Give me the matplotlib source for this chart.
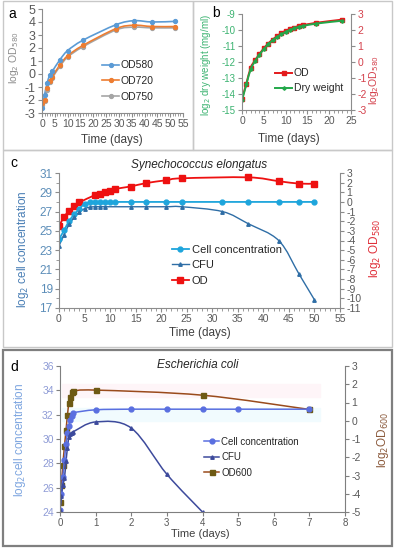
import numpy as np
import matplotlib
matplotlib.use('Agg')
import matplotlib.pyplot as plt
from matplotlib.path import Path
from matplotlib.patches import PathPatch, Rectangle
from matplotlib.lines import Line2D
from matplotlib.ticker import MultipleLocator

plt.rcParams['font.family'] = ['Liberation Sans', 'DejaVu Sans']
plt.rcParams['axes.unicode_minus'] = False

# ---- panel a: log2 OD at three wavelengths
a_days = [0, 1, 2, 3, 4, 7, 10, 16, 29, 36, 43, 52]
a_od580 = [-2.6, -1.6, -0.7, -0.1, 0.2, 1.1, 1.8, 2.6, 3.8, 4.1, 4.0, 4.05]
a_od720 = [-2.2, -2.0, -1.1, -0.5, -0.2, 0.7, 1.4, 2.2, 3.5, 3.75, 3.65, 3.65]
a_od750 = [-2.4, -2.1, -1.2, -0.6, -0.3, 0.6, 1.3, 2.1, 3.4, 3.6, 3.55, 3.55]

# ---- panel b: OD vs dry weight
b_days = [0, 1, 2, 3, 4, 5, 6, 7, 8, 9, 10, 11, 12, 13, 14, 17, 23]
b_od = [-2.3, -1.35, -0.35, 0.1, 0.5, 0.85, 1.15, 1.4, 1.6, 1.8, 1.95, 2.05,
        2.15, 2.25, 2.3, 2.45, 2.65]
b_dry = [-14.4, -13.4, -12.45, -11.95, -11.55, -11.2, -10.9, -10.65, -10.45,
         -10.28, -10.12, -10.0, -9.9, -9.8, -9.75, -9.6, -9.42]

# ---- panel c: Synechococcus elongatus
c_days = [0, 1, 2, 3, 4, 5, 6, 7, 8, 9, 10, 11, 14, 17, 21, 24, 32, 37, 43, 47, 50]
c_cells = [24.15, 25.05, 26.05, 26.7, 27.3, 27.8, 27.95, 28, 28, 28, 28, 28,
           28, 28, 28, 28, 28, 28, 28, 28, 28]
c_cfu_days = [0, 1, 2, 3, 4, 5, 6, 7, 8, 9, 14, 17, 21, 24, 32, 37, 43, 47, 50]
c_cfu = [23.45, 24.6, 25.7, 26.4, 26.95, 27.3, 27.45, 27.5, 27.5, 27.5, 27.5,
         27.5, 27.5, 27.5, 27.0, 25.75, 24.0, 20.5, 17.85]
c_od_days = [0, 1, 2, 3, 4, 7, 8, 9, 10, 11, 14, 17, 21, 24, 37, 43, 47, 50]
c_od = [-2.5, -1.55, -0.9, -0.45, -0.05, 0.7, 0.85, 1.0, 1.15, 1.35, 1.6,
        1.95, 2.25, 2.45, 2.55, 2.15, 1.9, 1.9]
c_left_ticks = [17, 19, 21, 23, 25, 27, 29, 31]

# ---- panel d: Escherichia coli
d_days = [0, 0.04, 0.08, 0.125, 0.17, 0.21, 0.25, 0.29, 0.33, 0.375, 1, 2, 3, 4, 5, 7]
d_cells = [24.2, 25.5, 26.9, 28.3, 29.6, 30.5, 31.1, 31.6, 31.9, 32.15,
           32.4, 32.45, 32.45, 32.45, 32.45, 32.45]
d_cfu_days = [0, 0.04, 0.08, 0.125, 0.17, 0.21, 0.25, 0.29, 0.33, 0.375, 1, 2, 3, 4]
d_cfu = [24.2, 25.3, 26.2, 26.8, 28.2, 29.3, 30.2, 30.4, 30.5, 30.6, 31.4, 30.9, 27.1, 24.0]
d_od_days = [0, 0.04, 0.08, 0.125, 0.17, 0.21, 0.25, 0.29, 0.33, 0.375, 1, 4, 7]
d_od = [-4.45, -3.5, -2.4, -1.4, -0.5, 0.33, 0.97, 1.3, 1.55, 1.62, 1.68, 1.4, 0.62]

W, H = 396, 550
fig = plt.figure(figsize=(W / 100, H / 100), dpi=100)


def rect(l, t, r, b):
    return [l / W, 1 - b / H, (r - l) / W, (b - t) / H]


def smooth(ax, x, y, color, lw=1.2):
    # Excel-like smoothed line, drawn as cubic bezier through the points
    pts = np.column_stack([x, y]).astype(float)
    n = len(pts)
    verts, codes = [pts[0]], [Path.MOVETO]
    for i in range(n - 1):
        p0, p1 = pts[max(i - 1, 0)], pts[i]
        p2, p3 = pts[i + 1], pts[min(i + 2, n - 1)]
        verts += [p1 + (p2 - p0) / 6, p2 - (p3 - p1) / 6, p2]
        codes += [Path.CURVE4] * 3
    ax.add_patch(PathPatch(Path(verts, codes), fill=False, edgecolor=color, lw=lw))


def style(ax, tc='#595959', sc='#8c8c8c'):
    for s in ['top', 'right']:
        ax.spines[s].set_visible(False)
    for s in ['left', 'bottom']:
        ax.spines[s].set_color(sc)
        ax.spines[s].set_linewidth(0.8)
    ax.tick_params(which='both', direction='out', color=sc, labelsize=7.5,
                   labelcolor=tc, pad=1.5)
    ax.tick_params(which='major', length=3)
    ax.tick_params(which='minor', length=2)
    ax.set_facecolor('none')


def right_axis(ax, sc='#8c8c8c', tc='#595959'):
    axr = ax.twinx()
    axr.set_facecolor('none')
    for s in ['top', 'left', 'bottom']:
        axr.spines[s].set_visible(False)
    axr.spines['right'].set_color(sc)
    axr.tick_params(direction='out', length=3, color=sc, labelsize=7.5,
                    labelcolor=tc, pad=1.5)
    return axr


def frame(l, t, r, b, color='#c8c8c8', lw=1.0):
    fig.add_artist(Rectangle((l / W, 1 - b / H), (r - l) / W, (b - t) / H,
                             transform=fig.transFigure, fill=False,
                             edgecolor=color, lw=lw))


def legend(handles, labels, x, y, size, spacing):
    fig.legend(handles, labels, loc='upper left', bbox_to_anchor=(x / W, 1 - y / H),
               bbox_transform=fig.transFigure, frameon=False, fontsize=size,
               borderpad=0, handlelength=1.6, handletextpad=0.2,
               labelspacing=spacing, labelcolor='#262626')


frame(3, 1, 193, 150)
frame(193, 1, 392, 150)
frame(3, 150, 392, 347)
frame(3, 350, 392, 546, color='#7f7f7f', lw=1.6)

# ---------------- panel a
ax = fig.add_axes(rect(42, 9, 183, 113))
style(ax)
cols_a = ['#5b9bd5', '#ed7d31', '#a5a5a5']
for vals, c in zip([a_od750, a_od720, a_od580], cols_a[::-1]):
    smooth(ax, a_days, vals, c)
    ax.plot(a_days, vals, 'o', color=c, ms=2.8, ls='none')
ax.set_xlim(0, 55)
ax.set_ylim(-3, 5)
ax.xaxis.set_major_locator(MultipleLocator(5))
ax.xaxis.set_minor_locator(MultipleLocator(1))
ax.yaxis.set_major_locator(MultipleLocator(1))
ax.tick_params(axis='y', labelsize=9)
ax.tick_params(axis='x', labelsize=7.5)
fig.text(112 / W, 1 - 140 / H, 'Time (days)', ha='center', va='center',
         fontsize=8.5, color='#404040')
fig.text(14 / W, 1 - 58 / H, 'log$_2$ OD$_{580}$', rotation=90, ha='center',
         va='center', fontsize=7.5, color='#8c8c8c')
fig.text(8 / W, 1 - 14 / H, 'a', fontsize=10, ha='left', va='center')
legend([Line2D([], [], color=c, marker='o', ms=2.8, lw=1.2) for c in cols_a],
       ['OD580', 'OD720', 'OD750'], 97, 55, 7.5, 0.55)

# ---------------- panel b
ax = fig.add_axes(rect(242, 14, 351, 110))
style(ax, tc='#3cb371')
axr = right_axis(ax, tc='#d4414c')
green, red = '#22a84a', '#e31a1c'
smooth(axr, b_days, b_od, red, lw=1.4)
axr.plot(b_days, b_od, 's', color=red, ms=3.5, ls='none')
smooth(ax, b_days, b_dry, green, lw=1.4)
ax.plot(b_days, b_dry, 'D', color=green, ms=1.8, ls='none')
ax.set_xlim(0, 25)
ax.set_ylim(-15, -9)
axr.set_ylim(-3, 3)
ax.xaxis.set_major_locator(MultipleLocator(5))
ax.xaxis.set_minor_locator(MultipleLocator(1))
ax.yaxis.set_major_locator(MultipleLocator(1))
axr.yaxis.set_major_locator(MultipleLocator(1))
ax.tick_params(axis='x', labelcolor='#595959')
ax.tick_params(axis='y', labelsize=7)
ax.set_zorder(axr.get_zorder() + 1)
fig.text(289 / W, 1 - 139 / H, 'Time (days)', ha='center', va='center',
         fontsize=8.5, color='#404040')
fig.text(206 / W, 1 - 65 / H, 'log$_2$ dry weight (mg/ml)', rotation=90,
         ha='center', va='center', fontsize=7, color='#3cb371')
fig.text(374 / W, 1 - 80 / H, 'log$_2$OD$_{580}$', rotation=90,
         ha='center', va='center', fontsize=7.5, color='#d4414c')
fig.text(212 / W, 1 - 13 / H, 'b', fontsize=10, ha='left', va='center')
legend([Line2D([], [], color=red, marker='s', ms=3.5, lw=1.4),
        Line2D([], [], color=green, marker='D', ms=1.8, lw=1.4)],
       ['OD', 'Dry weight'], 270, 63, 7.5, 0.5)

# ---------------- panel c
ax = fig.add_axes(rect(59, 173, 340, 308))
style(ax, tc='#5b8db8')
axr = right_axis(ax)
cyan, dblue, red = '#1ea5dc', '#2f6ea6', '#ee1111'
smooth(axr, c_od_days, c_od, red, lw=1.3)
axr.plot(c_od_days, c_od, 's', color=red, ms=3.8, ls='none')
smooth(ax, c_days, c_cells, cyan, lw=1.3)
ax.plot(c_days, c_cells, 'o', color=cyan, ms=3.5, ls='none')
smooth(ax, c_cfu_days, c_cfu, dblue, lw=1.0)
ax.plot(c_cfu_days, c_cfu, '^', color=dblue, ms=2.5, ls='none')
ax.set_xlim(0, 55)
ax.set_ylim(17, 31)
axr.set_ylim(-11, 3)
ax.xaxis.set_major_locator(MultipleLocator(5))
ax.xaxis.set_minor_locator(MultipleLocator(1))
ax.set_yticks(c_left_ticks)
ax.yaxis.set_minor_locator(MultipleLocator(1))
axr.yaxis.set_major_locator(MultipleLocator(1))
ax.tick_params(axis='x', labelcolor='#595959')
ax.tick_params(axis='y', labelsize=8.5)
ax.set_zorder(axr.get_zorder() + 1)
fig.text(199 / W, 1 - 165 / H, 'Synechococcus elongatus', style='italic',
         ha='center', va='center', fontsize=8.5, color='#262626')
fig.text(200 / W, 1 - 333 / H, 'Time (days)', ha='center', va='center',
         fontsize=8.5, color='#404040')
fig.text(23 / W, 1 - 249 / H, 'log$_2$ cell concentration', rotation=90,
         ha='center', va='center', fontsize=8.5, color='#4a7fb5')
fig.text(375 / W, 1 - 248 / H, 'log$_2$ OD$_{580}$', rotation=90,
         ha='center', va='center', fontsize=8.5, color='#e0303a')
fig.text(10 / W, 1 - 163 / H, 'c', fontsize=10, ha='left', va='center')
legend([Line2D([], [], color=cyan, marker='o', ms=3.5, lw=1.3),
        Line2D([], [], color=dblue, marker='^', ms=2.5, lw=1.0),
        Line2D([], [], color=red, marker='s', ms=3.8, lw=1.3)],
       ['Cell concentration', 'CFU', 'OD'], 166, 239, 8, 0.5)

# ---------------- panel d
ax = fig.add_axes(rect(60, 366, 345, 512))
style(ax, tc='#8e9bd6', sc='#7f7f7f')
axr = right_axis(ax, sc='#7f7f7f')
# faint highlight bands left over in the original figure
fig.add_artist(Rectangle((62 / W, 1 - 397 / H), 258 / W, 13 / H,
                         transform=fig.transFigure, color='#fef5f8', zorder=0))
fig.add_artist(Rectangle((62 / W, 1 - 421 / H), 258 / W, 13 / H,
                         transform=fig.transFigure, color='#f1fbfe', zorder=0))
pblue, sblue, brown, olive = '#5a6fe0', '#3d4a9c', '#9a4b1c', '#6e5a14'
smooth(axr, d_od_days, d_od, brown, lw=1.1)
axr.plot(d_od_days, d_od, 's', color=olive, ms=3.6, ls='none')
smooth(ax, d_days, d_cells, pblue, lw=1.1)
ax.plot(d_days, d_cells, 'o', color=pblue, ms=3.5, ls='none')
smooth(ax, d_cfu_days, d_cfu, sblue, lw=1.1)
ax.plot(d_cfu_days, d_cfu, '^', color=sblue, ms=2.5, ls='none')
ax.set_xlim(0, 8)
ax.set_ylim(24, 36)
axr.set_ylim(-5, 3)
ax.xaxis.set_major_locator(MultipleLocator(1))
ax.yaxis.set_major_locator(MultipleLocator(2))
axr.yaxis.set_major_locator(MultipleLocator(1))
ax.tick_params(axis='x', labelcolor='#595959', labelsize=7)
ax.set_zorder(axr.get_zorder() + 1)
fig.text(198 / W, 1 - 365 / H, 'Escherichia coli', style='italic',
         ha='center', va='center', fontsize=8.5, color='#262626')
fig.text(200 / W, 1 - 534 / H, 'Time (days)', ha='center', va='center',
         fontsize=8, color='#404040')
fig.text(20 / W, 1 - 440 / H, 'log$_2$cell concentration', rotation=90,
         ha='center', va='center', fontsize=8.5, color='#7ea6e0')
fig.text(383 / W, 1 - 440 / H, 'log$_2$OD$_{600}$', rotation=90,
         ha='center', va='center', fontsize=8.5, color='#8b5a3c')
fig.text(10 / W, 1 - 367 / H, 'd', fontsize=10, ha='left', va='center')
legend([Line2D([], [], color=pblue, marker='o', ms=3.5, lw=1.1),
        Line2D([], [], color=sblue, marker='^', ms=2.5, lw=1.1),
        Line2D([], [], color=brown, marker='s', mfc=olive, mec=olive, ms=3.6, lw=1.1)],
       ['Cell concentration', 'CFU', 'OD600'], 199, 432, 7, 0.55)

fig.savefig('out.png', dpi=100)
